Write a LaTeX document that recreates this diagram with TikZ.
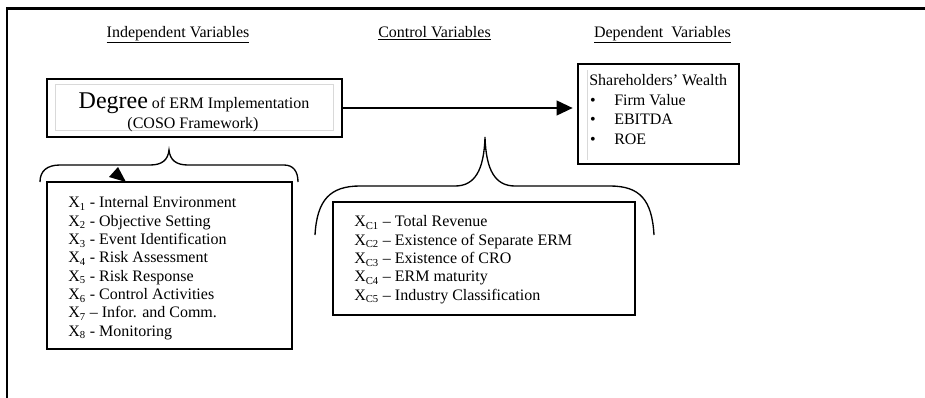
\documentclass[tikz,border=0pt]{standalone}
\usepackage{fontspec}
\setmainfont{Liberation Serif}
\usetikzlibrary{arrows.meta}
\begin{document}
\begin{tikzpicture}[x=0.75pt,y=-0.75pt,
  txt/.style={font=\fontsize{12}{13.75}\selectfont, inner sep=0pt},
  box/.style={draw, line width=1pt, inner sep=0pt},
  brace/.style={line width=1pt},
  inner/.style={draw=gray!30, line width=0.5pt}]
\useasboundingbox (0,0) rectangle (925,397);

% outer frame (top and left edges)
\draw[line width=1.8pt] (7,398) -- (7,8.5) -- (926,8.5);

% column headings
\node[txt, anchor=base] (hInd) at (178,37) {\underline{Independent Variables}};
\node[txt, anchor=base] (hCtl) at (434.5,37) {\underline{Control Variables}};
\node[txt, anchor=base] (hDep) at (662.5,37) {\underline{Dependent\ \ Variables}};

% ERM implementation box
\node[box, minimum width=221.25pt, minimum height=43.5pt] (degree) at (194.5,108) {};
\draw[inner] (55,84) rectangle (333,130);
\node[txt, anchor=base] (degT1) at (194,108) {{\fontsize{18}{20}\selectfont Degree} of ERM Implementation};
\node[txt, anchor=base] (degT2) at (193,128) {(COSO Framework)};

% shareholders' wealth box
\node[box, minimum width=120.75pt, minimum height=75pt] (share) at (658.5,114) {};
\draw[inner] (587,70) -- (587,160);
\node[txt, anchor=base west] (shT) at (589,85) {Shareholders’ Wealth};
\node[txt, anchor=base] (b1) at (593,105) {\textbullet};
\node[txt, anchor=base] (b2) at (593,124.5) {\textbullet};
\node[txt, anchor=base] (b3) at (593,144) {\textbullet};
\node[txt, anchor=base west] (s1) at (614,105) {Firm Value};
\node[txt, anchor=base west] (s2) at (614,124.5) {EBITDA};
\node[txt, anchor=base west] (s3) at (614,144) {ROE};

% main arrow
\draw[line width=1.5pt, -{Triangle[length=12pt,width=11pt]}, shorten >=3.5pt]
  (degree.east) -- (degree.east -| share.west);

% independent variables box (list anchored on its last baseline)
\node[box, minimum width=183.75pt, minimum height=125.25pt] (xbox) at (169.5,265.5) {};
\node[txt, anchor=base west, align=left] (xlist) at (68,336.3) {%
X\textsubscript{1} - Internal Environment\\
X\textsubscript{2} - Objective Setting\\
X\textsubscript{3} - Event Identification\\
X\textsubscript{4} - Risk Assessment\\
X\textsubscript{5} - Risk Response\\
X\textsubscript{6} - Control Activities\\
X\textsubscript{7} – Infor. and Comm.\\
X\textsubscript{8} - Monitoring};

% control variables box
\node[box, minimum width=226.5pt, minimum height=84.75pt] (cbox) at (484,258.5) {};
\node[txt, anchor=base west, align=left] (clist) at (354,300.3) {%
X\textsubscript{C1} – Total Revenue\\
X\textsubscript{C2} – Existence of Separate ERM\\
X\textsubscript{C3} – Existence of CRO\\
X\textsubscript{C4} – ERM maturity\\
X\textsubscript{C5} – Industry Classification};

% brace under the ERM box
\draw[brace] (40,182) .. controls (40,171) and (47,165) .. (60,165) -- (150,165)
  .. controls (162,165) and (168,160) .. (169,150)
  .. controls (170,160) and (176,165) .. (188,165) -- (284,165)
  .. controls (293,165) and (298,171) .. (298,182);
\fill (118,167) -- (109,177) -- (126,182) -- cycle;

% brace over the control variables box
\draw[brace] (315,235) .. controls (317,200) and (330,186) .. (360,186) -- (455,186)
  .. controls (475,186) and (484,170) .. (485,137)
  .. controls (486,170) and (495,186) .. (515,186) -- (610,186)
  .. controls (640,186) and (652,200) .. (654,235);
\end{tikzpicture}
\end{document}
